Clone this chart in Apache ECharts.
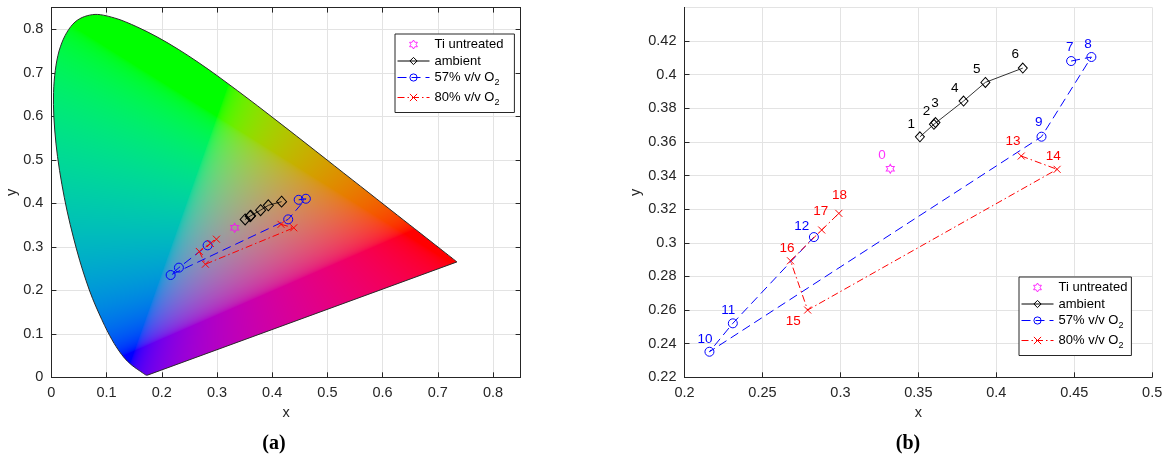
<!DOCTYPE html>
<html><head><meta charset="utf-8">
<script src="https://cdn.jsdelivr.net/npm/echarts@6/dist/echarts.min.js"></script>
<style>html,body{margin:0;padding:0;background:#fff}#c{width:1167px;height:458px}</style>
</head><body><div id="c"></div>
<script>
// ---------------- data ----------------
const SERIES_NAMES = ['Ti untreated', 'ambient', '57% v/v O2', '80% v/v O2'];

const tiX = [0.332];
const tiY = [0.344];
const tiIds = ['0'];

const ambX = [0.351, 0.360, 0.361, 0.379, 0.393, 0.417];
const ambY = [0.363, 0.3705, 0.3715, 0.3843, 0.3954, 0.4039];
const ambIds = ['1', '2', '3', '4', '5', '6'];

const o57X = [0.448, 0.461, 0.429, 0.216, 0.231, 0.283];
const o57Y = [0.4081, 0.4105, 0.3631, 0.2352, 0.2521, 0.3034];
const o57Ids = ['7', '8', '9', '10', '11', '12'];

const o80X = [0.416, 0.439, 0.279, 0.268, 0.288, 0.299];
const o80Y = [0.3516, 0.3437, 0.2600, 0.2893, 0.3076, 0.3175];
const o80Ids = ['13', '14', '15', '16', '17', '18'];

// CIE 1931 2-degree spectral locus, 380..700 nm every 5 nm
const locusX = [0.1741,0.1740,0.1738,0.1736,0.1733,0.1730,0.1726,0.1721,0.1714,0.1703,0.1689,0.1669,0.1644,0.1611,0.1566,0.1510,0.1440,0.1355,0.1241,0.1096,0.0913,0.0687,0.0454,0.0235,0.0082,0.0039,0.0139,0.0389,0.0743,0.1142,0.1547,0.1929,0.2296,0.2658,0.3016,0.3373,0.3731,0.4087,0.4441,0.4788,0.5125,0.5448,0.5752,0.6029,0.6270,0.6482,0.6658,0.6801,0.6915,0.7006,0.7079,0.7140,0.7190,0.7230,0.7260,0.7283,0.7300,0.7311,0.7320,0.7327,0.7334,0.7340,0.7344,0.7346,0.7347];
const locusY = [0.0050,0.0050,0.0049,0.0049,0.0048,0.0048,0.0048,0.0048,0.0051,0.0058,0.0069,0.0086,0.0109,0.0138,0.0177,0.0227,0.0297,0.0399,0.0578,0.0868,0.1327,0.2007,0.2950,0.4127,0.5384,0.6548,0.7502,0.8120,0.8338,0.8262,0.8059,0.7816,0.7543,0.7243,0.6923,0.6589,0.6245,0.5896,0.5547,0.5202,0.4866,0.4544,0.4242,0.3965,0.3725,0.3514,0.3340,0.3197,0.3083,0.2993,0.2920,0.2859,0.2809,0.2770,0.2740,0.2717,0.2700,0.2689,0.2680,0.2673,0.2666,0.2660,0.2656,0.2654,0.2653];

// ---------------- layout / style (not data) ----------------
const FONT = 'Liberation Sans, Arial, Helvetica, sans-serif';
const AX = '#262626';
const GRIDC = '#e3e3e3';
const TICK_FS = 14.5;
const LABEL_OFFSETS = {
  '0': [-8.4, -14], '1': [-8.6, -12.5], '2': [-7.5, -13], '3': [-0.6, -19.5], '4': [-8.7, -12.5],
  '5': [-8.6, -12.7], '6': [-7.5, -13.4], '7': [-1.5, -13.5], '8': [-3.5, -12.7], '9': [-2.8, -14.3],
  '10': [-4.5, -12.3], '11': [-4.5, -12.7], '12': [-12.2, -11], '13': [-8.2, -14.3], '14': [-3.8, -12.7],
  '15': [-14.3, 11], '16': [-3.5, -12.3], '17': [-1, -18.3], '18': [0.7, -17.7]
};

const HEX = (function () {
  let d = '';
  for (let i = 0; i < 12; i++) {
    const a = (-90 + 30 * i) * Math.PI / 180;
    const r = i % 2 ? 0.57735 : 1;
    d += (i ? 'L' : 'M') + (100 + 100 * r * Math.cos(a)).toFixed(2) + ',' + (100 + 100 * r * Math.sin(a)).toFixed(2);
  }
  return 'path://' + d + 'Z';
})();
const CROSS = 'path://M0,0L10,10M0,10L10,0';

const STY = [
  { type: 'scatter', symbol: HEX, sizeA: [8, 9], sizeB: [8, 9], color: '#ff00ff', dash: 'solid', width: 1 },
  { type: 'line', symbol: 'diamond', sizeA: [10, 11], sizeB: [9, 10], color: '#000000', dash: 'solid', width: 0.8 },
  { type: 'line', symbol: 'circle', sizeA: 9, sizeB: 9, color: '#0000ff', dash: [9, 5], width: 1 },
  { type: 'line', symbol: CROSS, sizeA: 7, sizeB: 7, color: '#ff0000', dash: [7, 3, 1.5, 3], width: 1 }
];
const SETS = [[tiX, tiY, tiIds], [ambX, ambY, ambIds], [o57X, o57Y, o57Ids], [o80X, o80Y, o80Ids]];

// ---------------- chromaticity colour field ----------------
function xyToRgb(x, y) {
  const X = x / y, Y = 1, Z = (1 - x - y) / y;
  let r = 3.2406 * X - 1.5372 * Y - 0.4986 * Z;
  let g = -0.9689 * X + 1.8758 * Y + 0.0415 * Z;
  let b = 0.0557 * X - 0.2040 * Y + 1.0570 * Z;
  r = Math.max(r, 0); g = Math.max(g, 0); b = Math.max(b, 0);
  const s = r + g + b || 1, k = 1.0;
  const gam = v => { v = Math.min(1, v / s * k); return v <= 0.0031308 ? 12.92 * v : 1.055 * Math.pow(v, 1 / 2.4) - 0.055; };
  return [gam(r) * 255, gam(g) * 255, gam(b) * 255];
}
// smooth outline (Catmull-Rom through the locus points, straight line of purples)
function locusPath(pts) {
  const cmds = [['M', pts[0][0], pts[0][1]]];
  const n = pts.length;
  for (let i = 0; i < n - 1; i++) {
    const p0 = pts[Math.max(i - 1, 0)], p1 = pts[i], p2 = pts[i + 1], p3 = pts[Math.min(i + 2, n - 1)];
    cmds.push(['C', p1[0] + (p2[0] - p0[0]) / 6, p1[1] + (p2[1] - p0[1]) / 6,
      p2[0] - (p3[0] - p1[0]) / 6, p2[1] - (p3[1] - p1[1]) / 6, p2[0], p2[1]]);
  }
  return cmds;
}
let gamutCache = null;
function renderGamut(params, api) {
  const pts = locusX.map((x, i) => api.coord([x, locusY[i]]));
  const o = api.coord([0, 0]), u = api.coord([1, 1]);
  let minX = Infinity, minY = Infinity, maxX = -Infinity, maxY = -Infinity;
  pts.forEach(p => { minX = Math.min(minX, p[0]); maxX = Math.max(maxX, p[0]); minY = Math.min(minY, p[1]); maxY = Math.max(maxY, p[1]); });
  const x0 = Math.floor(minX) - 2, y0 = Math.floor(minY) - 2;
  const W = Math.ceil(maxX) - x0 + 4, H = Math.ceil(maxY) - y0 + 4;
  const cmds = locusPath(pts);
  const key = [x0, y0, W, H, o[0], o[1], u[0], u[1]].join(',');
  if (!gamutCache || gamutCache.key !== key) {
    const src = document.createElement('canvas'); src.width = W; src.height = H;
    const sctx = src.getContext('2d');
    const im = sctx.createImageData(W, H);
    for (let j = 0; j < H; j++) {
      for (let i = 0; i < W; i++) {
        const px = x0 + i + 0.5, py = y0 + j + 0.5;
        const x = (px - o[0]) / (u[0] - o[0]);
        let y = (py - o[1]) / (u[1] - o[1]);
        if (y < 0.002) y = 0.002;
        const c = xyToRgb(Math.max(x, 0), y);
        const q = (j * W + i) * 4;
        im.data[q] = c[0]; im.data[q + 1] = c[1]; im.data[q + 2] = c[2]; im.data[q + 3] = 255;
      }
    }
    sctx.putImageData(im, 0, 0);
    const dst = document.createElement('canvas'); dst.width = W; dst.height = H;
    const d = dst.getContext('2d');
    d.beginPath();
    cmds.forEach(c => {
      if (c[0] === 'M') d.moveTo(c[1] - x0, c[2] - y0);
      else d.bezierCurveTo(c[1] - x0, c[2] - y0, c[3] - x0, c[4] - y0, c[5] - x0, c[6] - y0);
    });
    d.closePath(); d.clip(); d.drawImage(src, 0, 0);
    gamutCache = { key, canvas: dst };
  }
  const pathData = cmds.map(c => c[0] + c.slice(1).map(v => v.toFixed(2)).join(',')).join('') + 'Z';
  return {
    type: 'group', children: [
      { type: 'image', style: { image: gamutCache.canvas, x: x0, y: y0, width: W, height: H } },
      { type: 'path', shape: { pathData }, style: { fill: null, stroke: '#2a2a2a', lineWidth: 1 } }
    ]
  };
}

// ---------------- series builders ----------------
function mkSeries(panel, k) {
  const st = STY[k], set = SETS[k];
  const xi = panel === 'A' ? 0 : 2;
  const data = set[0].map((x, i) => {
    const item = { value: [x, set[1][i]] };
    if (panel === 'B') {
      const id = set[2][i];
      item.label = { show: true, formatter: id, offset: LABEL_OFFSETS[id] };
    }
    return item;
  });
  const s = {
    name: SERIES_NAMES[k], type: st.type, xAxisIndex: xi, yAxisIndex: xi, data,
    symbol: st.symbol, symbolSize: panel === 'A' ? st.sizeA : st.sizeB,
    itemStyle: { color: 'rgba(0,0,0,0)', borderColor: st.color, borderWidth: 1 },
    label: { position: 'inside', color: st.color, fontSize: 13.5, fontFamily: FONT },
    z: 3, animation: false, silent: true
  };
  if (st.type === 'line') {
    s.lineStyle = { color: st.color, width: st.width, type: st.dash };
    s.showAllSymbol = true;
  }
  return s;
}

function valAxis(grid, min, max, step, opts) {
  return Object.assign({
    type: 'value', gridIndex: grid, min, max, interval: step,
    axisLine: { show: true, onZero: false, lineStyle: { color: AX, width: 1 } },
    axisTick: { show: true, inside: true, length: 5, lineStyle: { color: AX } },
    axisLabel: { show: true, fontSize: TICK_FS, color: AX, fontFamily: FONT, margin: 8, showMaxLabel: false },
    splitLine: { show: true, lineStyle: { color: GRIDC, width: 1 } },
    nameLocation: 'middle', nameTextStyle: { fontSize: TICK_FS, color: AX, fontFamily: FONT }
  }, opts || {});
}
function boxAxis(grid, min, max, step, pos) {
  return {
    type: 'value', gridIndex: grid, min, max, interval: step, position: pos,
    axisLine: { show: true, onZero: false, lineStyle: { color: AX, width: 1 } },
    axisTick: { show: true, inside: true, length: 5, lineStyle: { color: AX } },
    axisLabel: { show: false }, splitLine: { show: false }
  };
}

function legendCfg(left, top, padR) {
  return {
    orient: 'vertical', left, top, itemWidth: 32, itemHeight: 9, itemGap: 3.5,
    padding: [4, padR, 5, 2], backgroundColor: '#ffffff', borderColor: AX, borderWidth: 1,
    selectedMode: false,
    data: SERIES_NAMES.map((n, k) => {
      const it = { name: n, itemStyle: { color: 'rgba(0,0,0,0)', borderColor: STY[k].color, borderWidth: 1 } };
      if (STY[k].type === 'line') it.lineStyle = { color: STY[k].color, width: 1, type: STY[k].dash };
      return it;
    }),
    formatter: n => n.endsWith('O2') ? '{t|' + n.slice(0, -1) + '}{s|2}' : '{t|' + n + '}',
    textStyle: {
      color: '#000', fontFamily: FONT, fontSize: 13,
      rich: {
        t: { fontSize: 13, lineHeight: 16, verticalAlign: 'middle', color: '#000', fontFamily: FONT },
        s: { fontSize: 9, lineHeight: 20, verticalAlign: 'bottom', color: '#000', fontFamily: FONT }
      }
    }
  };
}

const series = [
  { type: 'custom', xAxisIndex: 0, yAxisIndex: 0, coordinateSystem: 'cartesian2d', renderItem: renderGamut,
    data: [[0, 0]], z: 1, silent: true, animation: false, clip: false }
];
for (let k = 0; k < 4; k++) series.push(mkSeries('A', k));
for (let k = 0; k < 4; k++) series.push(mkSeries('B', k));

const option = {
  animation: false,
  grid: [
    { left: 51.4, top: 7.6, width: 469.2, height: 369.7, outerBoundsMode: 'none' },
    { left: 684.5, top: 7.4, width: 467.7, height: 369.9, outerBoundsMode: 'none' }
  ],
  xAxis: [
    valAxis(0, 0, 0.85, 0.1, { name: 'x', nameGap: 27 }),
    boxAxis(0, 0, 0.85, 0.1, 'top'),
    valAxis(1, 0.2, 0.5, 0.05, { name: 'x', nameGap: 27, axisLabel: { show: true, fontSize: TICK_FS, color: AX, fontFamily: FONT, margin: 8, showMaxLabel: true } })
  ],
  yAxis: [
    valAxis(0, 0, 0.85, 0.1, { name: 'y', nameGap: 31 }),
    boxAxis(0, 0, 0.85, 0.1, 'right'),
    valAxis(1, 0.22, 0.44, 0.02, { name: 'y', nameGap: 41 })
  ],
  legend: [legendCfg(395, 34, 11), legendCfg(1019, 277, 4)],
  graphic: [
    { type: 'text', style: { text: '(a)', x: 274, y: 444, align: 'center', verticalAlign: 'middle', font: 'bold 20px "Liberation Serif", "Times New Roman", serif', fill: '#000' } },
    { type: 'text', style: { text: '(b)', x: 908, y: 444, align: 'center', verticalAlign: 'middle', font: 'bold 20px "Liberation Serif", "Times New Roman", serif', fill: '#000' } }
  ],
  series
};

const chart = echarts.init(document.getElementById('c'), null, { renderer: 'canvas' });
chart.setOption(option);
</script>
</body></html>
